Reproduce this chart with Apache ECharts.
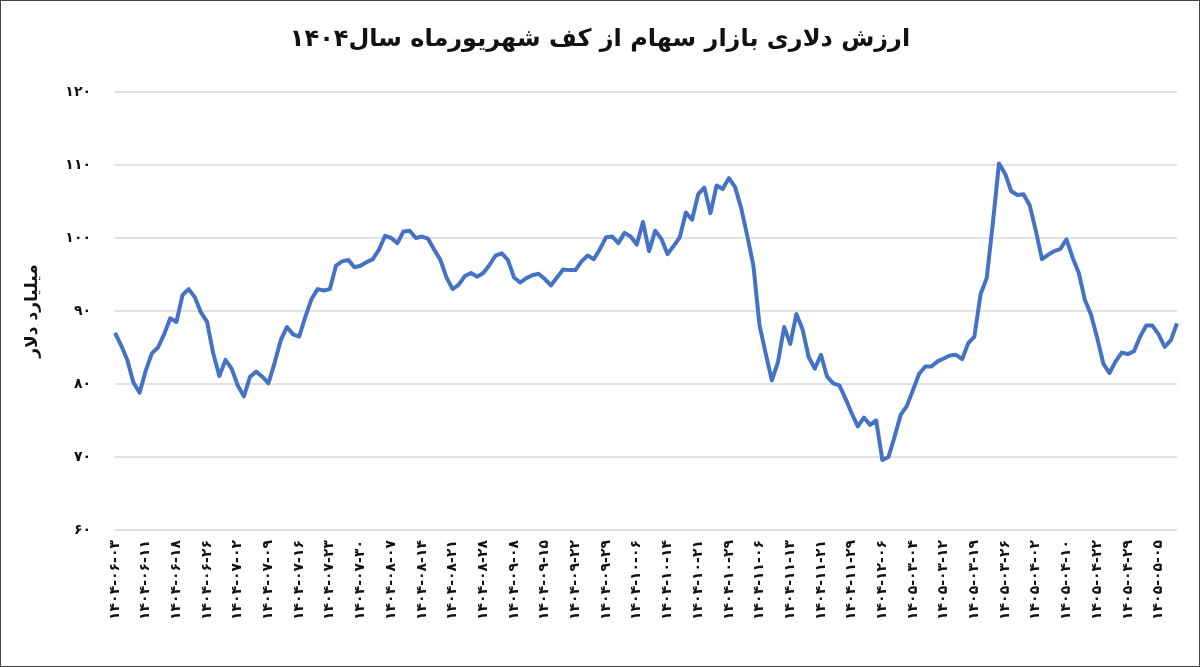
<!DOCTYPE html>
<html>
<head>
<meta charset="utf-8">
<script src="https://cdn.jsdelivr.net/npm/echarts@6/dist/echarts.min.js"></script>
<style>
  html, body { margin: 0; padding: 0; background: #fff; }
  #chart { width: 1198px; height: 665px; border: 1px solid #444; }
</style>
</head>
<body>
<div id="chart"></div>
<script>
var chartTitle = 'ارزش دلاری بازار سهام از کف شهریورماه سال۱۴۰۴';
var yAxisName = 'میلیارد دلار';

// one label every 5 trading days
var tickLabels = [
  '1404-06-03','1404-06-11','1404-06-18','1404-06-26','1404-07-02','1404-07-09','1404-07-16',
  '1404-07-23','1404-07-30','1404-08-07','1404-08-14','1404-08-21','1404-08-28','1404-09-08',
  '1404-09-15','1404-09-22','1404-09-29','1404-10-06','1404-10-14','1404-10-21','1404-10-29',
  '1404-11-06','1404-11-13','1404-11-21','1404-11-29','1404-12-06','1405-03-04','1405-03-12',
  '1405-03-19','1405-03-26','1405-04-02','1405-04-10','1405-04-22','1405-04-29','1405-05-05'
];

var marketValue = [
  87.0, 85.3, 83.3, 80.2, 78.8, 81.8, 84.2, 85.0, 86.8, 89.0,
  88.5, 92.2, 93.0, 91.9, 89.8, 88.5, 84.2, 81.1, 83.3, 82.1,
  79.8, 78.3, 81.0, 81.7, 81.0, 80.1, 82.9, 86.0, 87.8, 86.8,
  86.5, 89.2, 91.6, 93.0, 92.8, 93.0, 96.2, 96.8, 97.0, 96.0,
  96.2, 96.7, 97.1, 98.4, 100.3, 100.0, 99.3, 100.9, 101.0, 100.0,
  100.2, 99.9, 98.4, 97.0, 94.6, 93.0, 93.6, 94.8, 95.2, 94.7,
  95.2, 96.3, 97.6, 97.9, 97.0, 94.6, 93.9, 94.5, 94.9, 95.1,
  94.4, 93.5, 94.6, 95.7, 95.6, 95.6, 96.8, 97.6, 97.1, 98.5,
  100.1, 100.2, 99.3, 100.7, 100.2, 99.1, 102.2, 98.2, 101.0, 99.9,
  97.8, 98.9, 100.1, 103.5, 102.5, 106.0, 106.9, 103.4, 107.2, 106.7,
  108.2, 107.0, 104.1, 100.3, 96.2, 88.0, 84.2, 80.5, 83.0, 87.8,
  85.5, 89.6, 87.5, 83.7, 82.1, 84.0, 81.0, 80.1, 79.8, 78.0,
  76.0, 74.2, 75.4, 74.4, 75.0, 69.6, 70.0, 72.8, 75.8, 77.0,
  79.2, 81.4, 82.4, 82.4, 83.1, 83.5, 83.9, 84.0, 83.4, 85.6,
  86.5, 92.3, 94.5, 102.0, 110.2, 108.8, 106.4, 105.9, 106.0, 104.5,
  101.0, 97.1, 97.7, 98.2, 98.5, 99.8, 97.3, 95.2, 91.5, 89.5,
  86.3, 82.8, 81.5, 83.1, 84.3, 84.1, 84.5, 86.5, 88.0, 88.0,
  86.8, 85.1, 86.0, 88.3
];

var faDigits = '۰۱۲۳۴۵۶۷۸۹';
function toFa(s) {
  return String(s).replace(/[0-9]/g, function (d) { return faDigits[+d]; });
}

// category per data point, date text only on labelled ones
var categories = marketValue.map(function (v, i) {
  return i % 5 === 0 && tickLabels[i / 5] ? tickLabels[i / 5] : '';
});

var font = 'DejaVu Sans';
var chart = echarts.init(document.getElementById('chart'));
chart.setOption({
  animation: false,
  title: {
    text: chartTitle,
    left: 'center',
    top: 22,
    textStyle: { fontFamily: font, fontSize: 24, fontWeight: 'bold', color: '#111' }
  },
  grid: { left: 114, right: 22, top: 91, bottom: 136 },
  xAxis: {
    type: 'category',
    data: categories,
    boundaryGap: false,
    axisLine: { show: false },
    axisTick: { show: false },
    axisLabel: {
      interval: 4,
      rotate: 90,
      margin: 10,
      fontFamily: font,
      fontSize: 14,
      fontWeight: 'bold',
      color: '#111',
      formatter: function (v) { return toFa(v); }
    }
  },
  yAxis: {
    type: 'value',
    min: 60,
    max: 120,
    interval: 10,
    name: yAxisName,
    nameLocation: 'middle',
    nameRotate: 90,
    nameGap: 74,
    nameTextStyle: { fontFamily: font, fontSize: 17, fontWeight: 'bold', color: '#111' },
    axisLine: { show: false },
    axisTick: { show: false },
    splitLine: { lineStyle: { color: '#d9d9d9', width: 1.5 } },
    axisLabel: {
      margin: 24,
      fontFamily: font,
      fontSize: 14,
      fontWeight: 'bold',
      color: '#111',
      formatter: function (v) { return toFa(v); }
    }
  },
  series: [{
    type: 'line',
    data: marketValue,
    symbol: 'none',
    lineStyle: { color: '#4472C4', width: 4, join: 'round' }
  }]
});
</script>
</body>
</html>
